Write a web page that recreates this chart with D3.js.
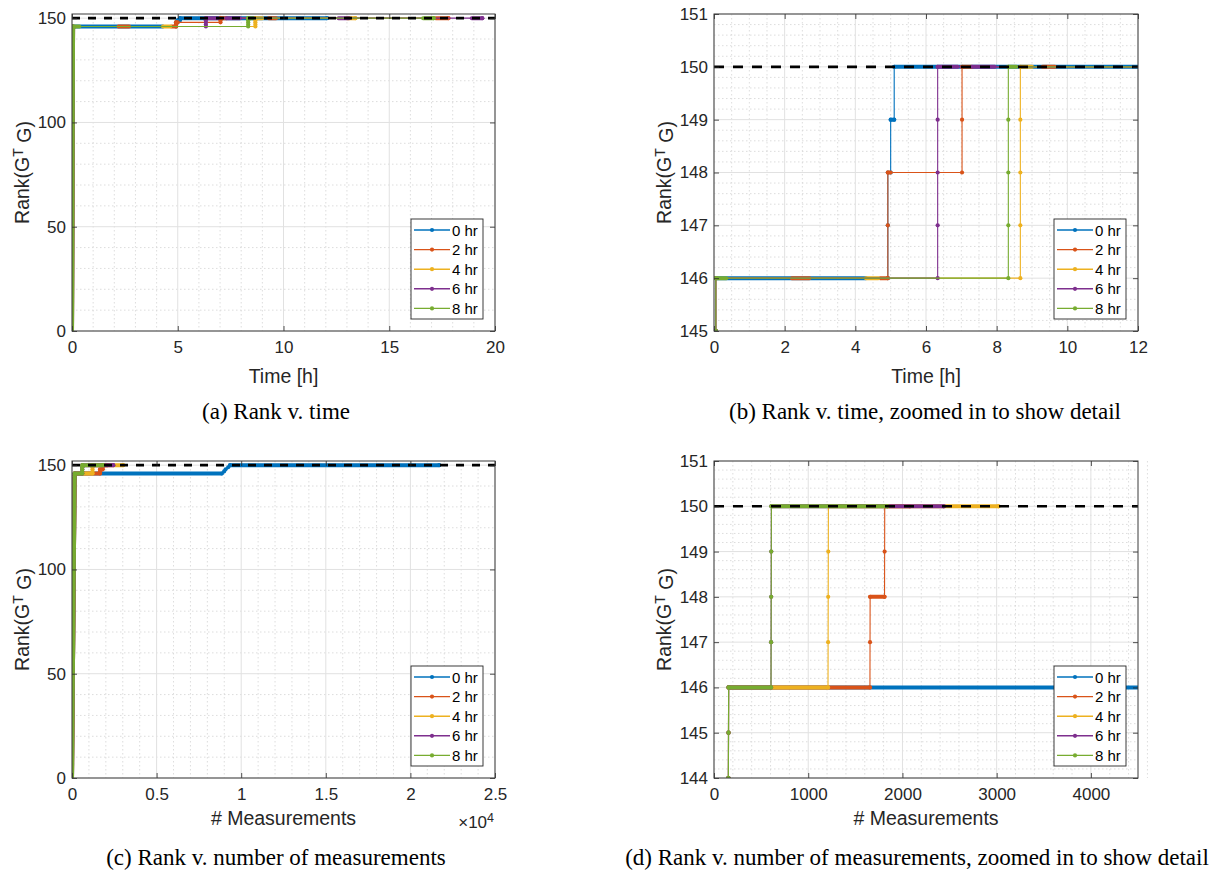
<!DOCTYPE html>
<html>
<head>
<meta charset="utf-8">
<script src="https://cdn.jsdelivr.net/npm/d3@7"></script>
<style>
    body { margin: 0; background: #fff; }
    svg { display: block; font-family: "Liberation Sans", Arial, sans-serif; }
</style>
</head>
<body>
<svg id="fig" width="1227" height="874"></svg>
<script>
// ---------------- data ----------------
const seriesNames = ["0 hr", "2 hr", "4 hr", "6 hr", "8 hr"];
const targetRank = 150;

// rank vs time [h], points [t, rank]
const time0hr = [[0, 0], [0.05, 145], [0.05, 146], [4.92, 146], [4.92, 147], [4.92, 148], [5.0, 148], [5.0, 149], [5.1, 149], [5.1, 150], [12.05, 150]];
const time2hr = [[0, 0], [0.05, 145], [0.05, 146], [4.92, 146], [4.92, 147], [4.92, 148], [7.02, 148], [7.02, 149], [7.02, 150], [17.8, 150]];
const time4hr = [[0, 0], [0.05, 145], [0.05, 146], [8.67, 146], [8.67, 147], [8.67, 148], [8.67, 149], [8.67, 150], [13.4, 150]];
const time6hr = [[0, 0], [0.05, 145], [0.05, 146], [6.33, 146], [6.33, 147], [6.33, 148], [6.33, 149], [6.33, 150], [19.4, 150]];
const time8hr = [[0, 0], [0.05, 145], [0.05, 146], [8.33, 146], [8.33, 147], [8.33, 148], [8.33, 149], [8.33, 150], [17.1, 150]];

// stretches where measurements come densely in time: [t0, t1, rank0, rank1]
const timeDense0hr = [[0, 0.05, 0, 145], [0.05, 4.3, 146, 146], [5.0, 5.1, 149, 149], [5.1, 12.05, 150, 150]];
const timeDense2hr = [[0, 0.05, 0, 145], [2.2, 2.7, 146, 146], [4.7, 4.92, 146, 146], [4.92, 5.0, 148, 148], [7.02, 7.3, 150, 150], [9.3, 9.65, 150, 150], [17.2, 17.8, 150, 150]];
const timeDense4hr = [[0, 0.05, 0, 145], [4.3, 4.65, 146, 146], [8.67, 9.0, 150, 150], [13.0, 13.4, 150, 150]];
const timeDense6hr = [[0, 0.05, 0, 145], [6.33, 6.9, 150, 150], [7.3, 7.95, 150, 150], [12.6, 13.1, 150, 150], [18.9, 19.4, 150, 150]];
const timeDense8hr = [[0, 0.05, 0, 145], [0.05, 0.35, 146, 146], [8.33, 8.55, 150, 150], [16.6, 17.1, 150, 150]];

// rank vs number of measurements, points [n, rank]
const meas0hr = [[0, 0], [153, 144], [154, 145], [155, 146], [8850, 146], [8990, 147], [9080, 148], [9230, 149], [9340, 150], [21700, 150]];
const meas2hr = [[0, 0], [153, 144], [154, 145], [155, 146], [1655, 146], [1656, 147], [1657, 148], [1810, 148], [1811, 149], [1812, 150], [2080, 150]];
const meas4hr = [[0, 0], [153, 144], [154, 145], [155, 146], [1210, 146], [1211, 147], [1212, 148], [1213, 149], [1214, 150], [3020, 150]];
const meas6hr = [[0, 0], [153, 144], [154, 145], [155, 146], [605, 146], [606, 147], [607, 148], [608, 149], [609, 150], [2440, 150]];
const meas8hr = [[0, 0], [153, 144], [154, 145], [155, 146], [605, 146], [606, 147], [607, 148], [608, 149], [609, 150], [1840, 150]];

// ticks
const timeTicksA = [0, 5, 10, 15, 20];
const rankTicksA = [0, 50, 100, 150];
const timeTicksB = [0, 2, 4, 6, 8, 10, 12];
const rankTicksB = [145, 146, 147, 148, 149, 150, 151];
const measTicksC = [0, 5000, 10000, 15000, 20000, 25000];
const measTickLabelsC = ["0", "0.5", "1", "1.5", "2", "2.5"];
const rankTicksC = [0, 50, 100, 150];
const measTicksD = [0, 1000, 2000, 3000, 4000];
const rankTicksD = [144, 145, 146, 147, 148, 149, 150, 151];

const captions = [
    "(a) Rank v. time",
    "(b) Rank v. time, zoomed in to show detail",
    "(c) Rank v. number of measurements",
    "(d) Rank v. number of measurements, zoomed in to show detail"
];

// ---------------- drawing ----------------
const colors = ["#0072BD", "#D95319", "#EDB120", "#7E2F8E", "#77AC30"];
const axisColor = "#262626";
const tickFont = 17, labelFont = 19.5, legendFont = 15;
const svg = d3.select("#fig");

// every measurement is its own point, so flat runs (and the initial rise) are dense
function denseFromMeasurements(pts) {
    const runs = [[pts[0][0], pts[1][0], pts[0][1], pts[1][1]]];
    for (let i = 1; i < pts.length; i++) {
        if (pts[i][1] === pts[i - 1][1]) runs.push([pts[i - 1][0], pts[i][0], pts[i][1], pts[i][1]]);
    }
    return runs;
}

function minorValues(domain, step, majors) {
    const n = Math.round((domain[1] - domain[0]) / step);
    const vals = [];
    for (let i = 0; i <= n; i++) {
        const v = domain[0] + i * step;
        if (!majors.some(t => Math.abs(t - v) < step * 1e-3)) vals.push(v);
    }
    return vals;
}

function drawPanel(p) {
    const g = svg.append("g");
    const x = d3.scaleLinear().domain(p.xDomain).range([p.left, p.left + p.width]);
    const y = d3.scaleLinear().domain(p.yDomain).range([p.top + p.height, p.top]);
    const bottom = p.top + p.height, right = p.left + p.width;

    svg.append("clipPath").attr("id", "clip-" + p.id)
        .append("rect")
        .attr("x", p.left).attr("y", p.top)
        .attr("width", p.width).attr("height", p.height);

    // minor grid
    g.append("g").selectAll("line")
        .data(minorValues(p.xDomain, p.xMinor, p.xTicks))
        .join("line")
        .attr("x1", d => x(d)).attr("x2", d => x(d))
        .attr("y1", p.top).attr("y2", bottom)
        .attr("stroke", "#d4d4d4").attr("stroke-width", 0.8).attr("stroke-dasharray", "1.5,2.5");
    g.append("g").selectAll("line")
        .data(minorValues(p.yDomain, p.yMinor, p.yTicks))
        .join("line")
        .attr("y1", d => y(d)).attr("y2", d => y(d))
        .attr("x1", p.left).attr("x2", right)
        .attr("stroke", "#d4d4d4").attr("stroke-width", 0.8).attr("stroke-dasharray", "1.5,2.5");

    // major grid
    g.append("g").selectAll("line")
        .data(p.xTicks)
        .join("line")
        .attr("x1", d => x(d)).attr("x2", d => x(d))
        .attr("y1", p.top).attr("y2", bottom)
        .attr("stroke", "#e1e1e1").attr("stroke-width", 1);
    g.append("g").selectAll("line")
        .data(p.yTicks)
        .join("line")
        .attr("y1", d => y(d)).attr("y2", d => y(d))
        .attr("x1", p.left).attr("x2", right)
        .attr("stroke", "#e1e1e1").attr("stroke-width", 1);

    // series
    const plot = g.append("g").attr("clip-path", `url(#clip-${p.id})`);
    const line = d3.line().x(d => x(d[0])).y(d => y(d[1]));
    p.series.forEach((s, i) => {
        const sg = plot.append("g");
        sg.selectAll("line.dense")
            .data(s.dense)
            .join("line")
            .attr("class", "dense")
            .attr("x1", d => x(d[0])).attr("x2", d => x(d[1]))
            .attr("y1", d => y(d[2])).attr("y2", d => y(d[3]))
            .attr("stroke", colors[i]).attr("stroke-width", 4)
            .attr("stroke-linecap", "round");
        sg.append("path")
            .datum(s.pts)
            .attr("d", line)
            .attr("fill", "none")
            .attr("stroke", colors[i])
            .attr("stroke-width", 1.1);
        sg.selectAll("circle")
            .data(s.pts)
            .join("circle")
            .attr("cx", d => x(d[0])).attr("cy", d => y(d[1]))
            .attr("r", 2.1)
            .attr("fill", colors[i]);
    });

    // target rank
    plot.append("line")
        .attr("x1", p.left).attr("x2", right)
        .attr("y1", y(targetRank)).attr("y2", y(targetRank))
        .attr("stroke", "#000").attr("stroke-width", 2.6)
        .attr("stroke-dasharray", p.dash);

    // axes with inward ticks on all four sides
    const fmtX = p.xLabels ? (d, i) => p.xLabels[i] : d3.format("d");
    const bottomAxis = g.append("g")
        .attr("transform", `translate(0,${bottom})`)
        .call(d3.axisBottom(x).tickValues(p.xTicks).tickFormat(fmtX).tickSizeInner(-5).tickSizeOuter(0).tickPadding(10));
    const leftAxis = g.append("g")
        .attr("transform", `translate(${p.left},0)`)
        .call(d3.axisLeft(y).tickValues(p.yTicks).tickFormat(d3.format("d")).tickSizeInner(-5).tickSizeOuter(0).tickPadding(6));
    const topAxis = g.append("g")
        .attr("transform", `translate(0,${p.top})`)
        .call(d3.axisTop(x).tickValues(p.xTicks).tickFormat("").tickSizeInner(-5).tickSizeOuter(0));
    const rightAxis = g.append("g")
        .attr("transform", `translate(${right},0)`)
        .call(d3.axisRight(y).tickValues(p.yTicks).tickFormat("").tickSizeInner(-5).tickSizeOuter(0));
    [bottomAxis, leftAxis, topAxis, rightAxis].forEach(a => {
        a.select(".domain").remove();
        a.selectAll(".tick line").attr("stroke", axisColor).attr("stroke-width", 0.8);
        a.selectAll("text").attr("fill", axisColor).attr("font-size", tickFont)
            .attr("font-family", '"Liberation Sans", Arial, sans-serif');
    });

    g.append("rect")
        .attr("x", p.left).attr("y", p.top)
        .attr("width", p.width).attr("height", p.height)
        .attr("fill", "none").attr("stroke", "#3a3a3a").attr("stroke-width", 1);

    // axis labels
    g.append("text")
        .attr("x", p.left + p.width / 2).attr("y", bottom + p.xTitleDy)
        .attr("text-anchor", "middle").attr("font-size", labelFont).attr("fill", axisColor)
        .text(p.xTitle);

    const yl = g.append("text")
        .attr("transform", `translate(${p.left - 43},${p.top + p.height / 2}) rotate(-90)`)
        .attr("text-anchor", "middle").attr("font-size", labelFont).attr("fill", axisColor);
    yl.append("tspan").text("Rank(G");
    yl.append("tspan").attr("dy", "-0.45em").attr("font-size", 14).text("T");
    yl.append("tspan").attr("dy", "0.45em").text(" G)");

    if (p.exponent) {
        const ex = g.append("text")
            .attr("x", right - 1).attr("y", bottom + 50)
            .attr("text-anchor", "end").attr("font-size", tickFont).attr("fill", axisColor);
        ex.append("tspan").text("\u00d710");
        ex.append("tspan").attr("dy", "-0.5em").attr("font-size", 12.5).text(p.exponent);
    }

    // legend
    const lw = 72, lh = 100;
    const lx = right - 12 - lw, ly = bottom - 12 - lh;
    const leg = g.append("g");
    leg.append("rect")
        .attr("x", lx).attr("y", ly).attr("width", lw).attr("height", lh)
        .attr("fill", "#fff").attr("stroke", axisColor).attr("stroke-width", 0.9);
    const rows = leg.selectAll("g.row")
        .data(seriesNames)
        .join("g")
        .attr("class", "row")
        .attr("transform", (d, i) => `translate(${lx},${ly + 11 + i * 19.6})`);
    rows.append("line")
        .attr("x1", 3).attr("x2", 39)
        .attr("stroke", (d, i) => colors[i]).attr("stroke-width", 1.4);
    rows.append("circle")
        .attr("cx", 21).attr("r", 2.1)
        .attr("fill", (d, i) => colors[i]);
    rows.append("text")
        .attr("x", 41).attr("y", 5.5)
        .attr("font-size", legendFont).attr("fill", "#000")
        .text(d => d);

    // caption
    svg.append("text")
        .attr("x", p.capX).attr("y", p.capY)
        .attr("text-anchor", "middle")
        .attr("font-family", '"Liberation Serif", "Times New Roman", serif')
        .attr("font-size", 23).attr("fill", "#000")
        .text(p.caption);
}

const timeSeries = [
    { pts: time0hr, dense: timeDense0hr },
    { pts: time2hr, dense: timeDense2hr },
    { pts: time4hr, dense: timeDense4hr },
    { pts: time6hr, dense: timeDense6hr },
    { pts: time8hr, dense: timeDense8hr }
];
const measSeries = [meas0hr, meas2hr, meas4hr, meas6hr, meas8hr]
    .map(pts => ({ pts: pts, dense: denseFromMeasurements(pts) }));

drawPanel({
    id: "a", left: 72, top: 14, width: 423, height: 317,
    xDomain: [0, 20], yDomain: [0, 152],
    xTicks: timeTicksA, yTicks: rankTicksA, xMinor: 1, yMinor: 10,
    xTitle: "Time [h]", xTitleDy: 52, series: timeSeries, dash: "8,8",
    caption: captions[0], capX: 276, capY: 419
});
drawPanel({
    id: "b", left: 714, top: 14, width: 424, height: 317,
    xDomain: [0, 12], yDomain: [145, 151],
    xTicks: timeTicksB, yTicks: rankTicksB, xMinor: 0.5, yMinor: 0.2,
    xTitle: "Time [h]", xTitleDy: 52, series: timeSeries, dash: "10,9",
    caption: captions[1], capX: 925, capY: 419
});
drawPanel({
    id: "c", left: 72, top: 461, width: 423, height: 317,
    xDomain: [0, 25000], yDomain: [0, 152],
    xTicks: measTicksC, xLabels: measTickLabelsC, yTicks: rankTicksC, xMinor: 1000, yMinor: 10,
    xTitle: "# Measurements", xTitleDy: 47, series: measSeries, dash: "8,8", exponent: "4",
    caption: captions[2], capX: 276, capY: 865
});
drawPanel({
    id: "d", left: 714, top: 461, width: 424, height: 317,
    xDomain: [0, 4500], yDomain: [144, 151],
    xTicks: measTicksD, yTicks: rankTicksD, xMinor: 200, yMinor: 0.2,
    xTitle: "# Measurements", xTitleDy: 47, series: measSeries, dash: "10,9",
    caption: captions[3], capX: 917, capY: 865
});
</script>
</body>
</html>
